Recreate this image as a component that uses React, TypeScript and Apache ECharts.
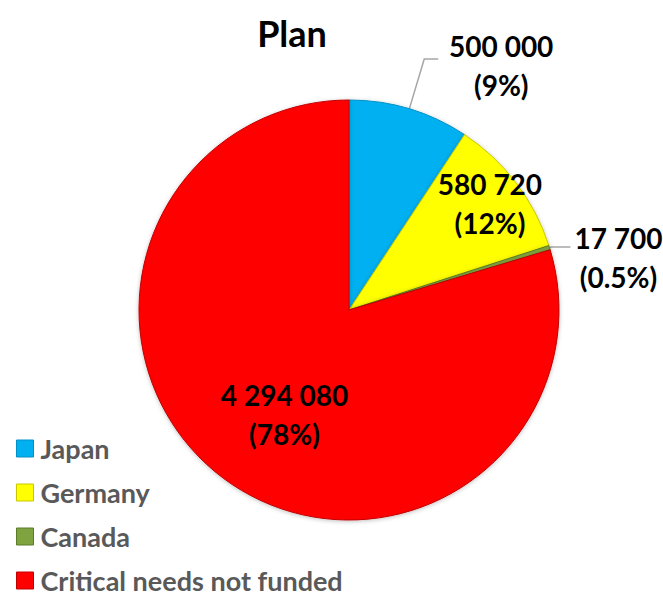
import React, { useEffect, useRef } from "react";
import * as echarts from "echarts";

const titleText = "Plan";
const categories = ["Japan", "Germany", "Canada", "Critical needs not funded"];
const values = [500000, 580720, 17700, 4294080];
const valueLabels = ["500 000", "580 720", "17 700", "4 294 080"];
const percentLabels = ["(9%)", "(12%)", "(0.5%)", "(78%)"];
const colors = ["#00B0F0", "#FFFF00", "#7FA33E", "#FF0000"];
const borders = ["#0090C8", "#C8C800", "#5A7D2A", "#C00000"];

export default function App() {
  const ref = useRef<HTMLDivElement>(null);
  useEffect(() => {
    if (!ref.current) return;
    const chart = echarts.init(ref.current, null, { renderer: "svg" });
    const font = "Lato, 'Open Sans', sans-serif";
    const data = categories.map((name, i) => {
      const item: any = {
        name,
        value: values[i],
        itemStyle: { color: colors[i], borderColor: borders[i], borderWidth: 1 },
      };
      if (i === 0) {
        item.label = { position: "outside", padding: [0, 0, 0, 116] };
        item.labelLine = { show: true, length: 52, length2: 14 };
      } else if (i === 2) {
        item.label = { position: "outside", padding: [0, 0, 0, 86] };
        item.labelLine = { show: true, length: 2, length2: 19 };
      } else {
        item.label = { position: "inside" };
        item.labelLine = { show: false };
      }
      return item;
    });
    chart.setOption({
      animation: false,
      title: {
        text: titleText,
        left: 287,
        top: 10,
        textAlign: "center",
        textStyle: { fontFamily: font, fontSize: 36, fontWeight: "bold", color: "#000" },
      },
      legend: {
        orient: "vertical",
        left: 16,
        top: 435,
        padding: 0,
        height: 200,
        itemWidth: 17,
        itemHeight: 17,
        itemGap: 17,
        icon: "rect",
        data: categories,
        itemStyle: { borderWidth: 1 },
        textStyle: {
          fontFamily: font,
          fontSize: 27,
          fontWeight: "bold",
          color: "#595959",
          lineHeight: 27,
          padding: [0, 0, 0, 2],
        },
      },
      series: [
        {
          type: "pie",
          center: [349, 310],
          radius: [0, 210],
          startAngle: 90,
          clockwise: true,
          data,
          itemStyle: { shadowBlur: 4, shadowColor: "rgba(0,0,0,0.25)", shadowOffsetY: 1 },
          label: {
            show: true,
            formatter: (p: any) => valueLabels[p.dataIndex] + "\n" + percentLabels[p.dataIndex],
            overflow: "none",
            fontFamily: font,
            fontSize: 28,
            fontWeight: "bold",
            lineHeight: 39,
            color: "#000",
          },
          labelLine: { lineStyle: { color: "#A6A6A6", width: 1.5 }, smooth: false },
          labelLayout: (p: any) => {
            if (p.dataIndex === 1) return { dx: 55, dy: -41 };
            if (p.dataIndex === 3) return { dy: 18 };
            if (p.dataIndex === 0) return { align: "center", dy: 6 };
            return { align: "center", dy: 10 };
          },
        },
      ],
    });
    return () => chart.dispose();
  }, []);
  return (
    <div
      ref={ref}
      style={{ position: "absolute", left: 0, top: 0, width: 663, height: 594, background: "#fff" }}
    />
  );
}
